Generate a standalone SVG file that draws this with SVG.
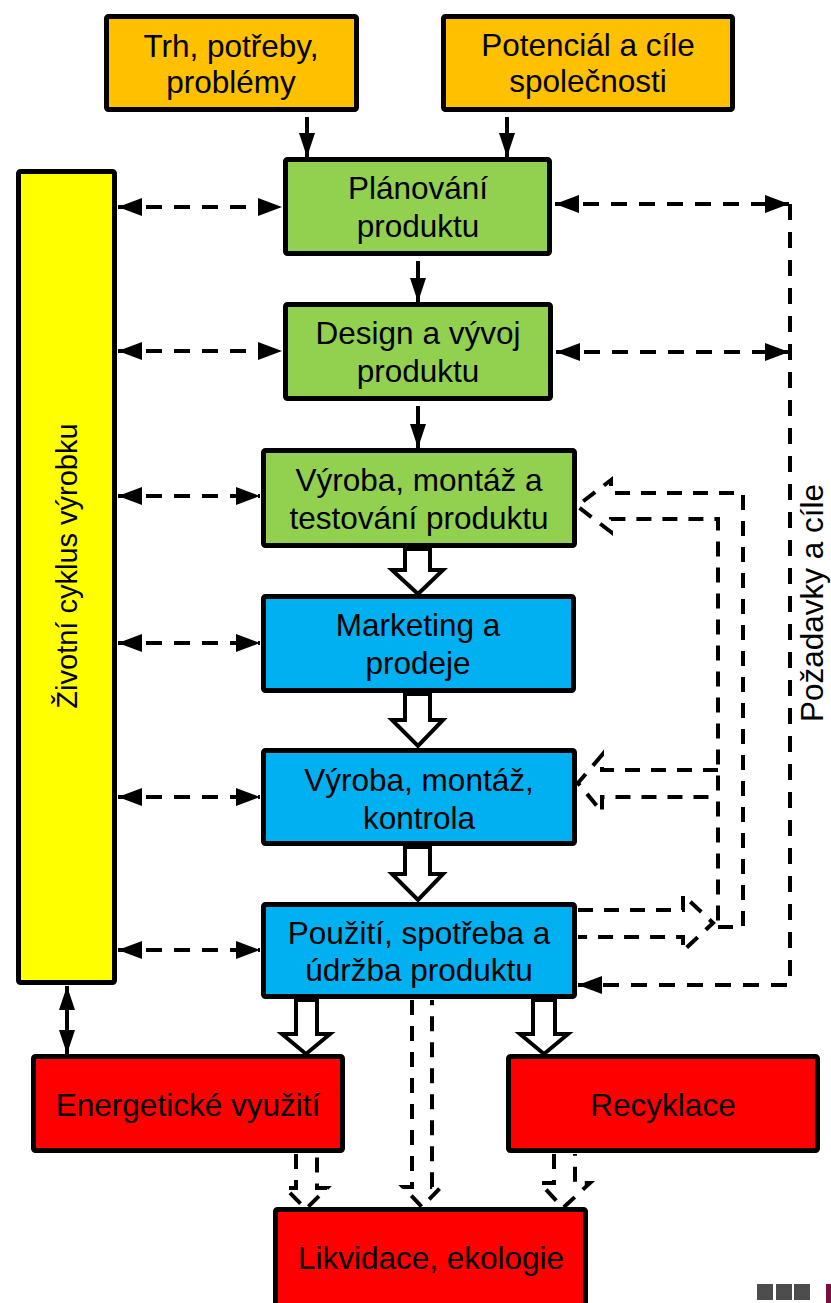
<svg xmlns="http://www.w3.org/2000/svg" width="831" height="1303" viewBox="0 0 831 1303">
<style>
.box{stroke:#000;stroke-width:5;stroke-linejoin:round}
.or{fill:#FFC000}.gr{fill:#92D050}.bl{fill:#00B0F0}.rd{fill:#FF0000}.ye{fill:#FFFF00}
text{font-family:"Liberation Sans",Arial,sans-serif;font-size:31.5px;fill:#000;text-anchor:middle}
.sl{stroke:#000;stroke-width:4;fill:none}
.dl{stroke:#000;stroke-width:4;fill:none;stroke-dasharray:16 12}
.hol{stroke:#000;stroke-width:4;fill:#fff;stroke-linejoin:miter}
.dh{stroke:#000;stroke-width:4;fill:none;stroke-dasharray:15 11}
</style>
<defs>
<marker id="ah" viewBox="0 0 24 18" refX="24" refY="9" markerWidth="24" markerHeight="18" markerUnits="userSpaceOnUse" orient="auto-start-reverse"><path d="M0,0 L24,9 L0,18 z" fill="#000"/></marker>
<marker id="av" viewBox="0 0 24 16" refX="24" refY="8" markerWidth="24" markerHeight="16" markerUnits="userSpaceOnUse" orient="auto-start-reverse"><path d="M0,0 L24,8 L0,16 z" fill="#000"/></marker>
</defs>

<g id="connectors">
<line class="sl" x1="307" y1="117" x2="307" y2="157" marker-end="url(#av)"/>
<line class="sl" x1="507" y1="117" x2="507" y2="157" marker-end="url(#av)"/>
<line class="sl" x1="418" y1="261" x2="418" y2="302" marker-end="url(#av)"/>
<line class="sl" x1="418" y1="406" x2="418" y2="448" marker-end="url(#av)"/>
<line class="sl" x1="67" y1="986" x2="67" y2="1054" marker-start="url(#av)" marker-end="url(#av)"/>
<polygon class="hol" points="405,549 405,570 392,570 418,594 443,570 430,570 430,549"/>
<polygon class="hol" points="405,694 405,720 392,720 418,746 443,720 430,720 430,694"/>
<polygon class="hol" points="405,847 405,874 392,874 418,900 443,874 430,874 430,847"/>
<polygon class="hol" points="296,1000 296,1034 282,1034 306,1054 330,1034 317,1034 317,1000"/>
<polygon class="hol" points="533,1000 533,1034 520,1034 544,1054 568,1034 555,1034 555,1000"/>
<line class="dl" x1="118" y1="207" x2="282" y2="207" marker-start="url(#ah)" marker-end="url(#ah)"/>
<line class="dl" x1="118" y1="351" x2="282" y2="351" marker-start="url(#ah)" marker-end="url(#ah)"/>
<line class="dl" x1="118" y1="496" x2="260" y2="496" marker-start="url(#ah)" marker-end="url(#ah)"/>
<line class="dl" x1="118" y1="643" x2="260" y2="643" marker-start="url(#ah)" marker-end="url(#ah)"/>
<line class="dl" x1="118" y1="797" x2="260" y2="797" marker-start="url(#ah)" marker-end="url(#ah)"/>
<line class="dl" x1="118" y1="950" x2="260" y2="950" marker-start="url(#ah)" marker-end="url(#ah)"/>
<line class="dl" x1="555" y1="204" x2="789" y2="204" marker-start="url(#ah)" marker-end="url(#ah)"/>
<line class="dl" x1="556" y1="352" x2="789" y2="352" marker-start="url(#ah)" marker-end="url(#ah)"/>
<path class="dl" d="M790,204 L790,985 L578,985" marker-end="url(#ah)"/>
<path class="dh" d="M718,927 L743,927 L743,493 L611,493 L611,480 L577,506 L611,532 L611,519 L718,519 L718,927"/>
<path class="dh" d="M718,770 L602,770 L602,755 L578,783 L602,812 L602,797 L718,797"/>
<path class="dh" d="M578,910 L683,910 L683,895 L713,923 L683,951 L683,937 L578,937"/>
<path class="dh" d="M296,1154 L296,1188 L285,1188 L306,1209 L327,1188 L317,1188 L317,1154"/>
<path class="dh" d="M412,1000 L412,1187 L403,1187 L422,1207 L441,1187 L432,1187 L432,1000"/>
<path class="dh" d="M554,1154 L554,1183 L540,1183 L563,1208 L590,1183 L575,1183 L575,1154"/>
</g>

<g id="trh"><rect class="box or" x="106.5" y="16.5" width="250" height="93" rx="2"/><text x="231" y="57">Trh, potřeby,</text><text x="231" y="93">problémy</text></g>
<g id="potencial"><rect class="box or" x="443.5" y="16.5" width="289" height="93" rx="2"/><text x="588" y="56">Potenciál a cíle</text><text x="588" y="92">společnosti</text></g>
<g id="planovani"><rect class="box gr" x="285.5" y="159.5" width="264" height="94" rx="2"/><text x="418" y="199">Plánování</text><text x="418" y="237">produktu</text></g>
<g id="design"><rect class="box gr" x="285.5" y="304.5" width="265" height="94" rx="2"/><text x="418" y="344">Design a vývoj</text><text x="418" y="382">produktu</text></g>
<g id="vyroba-test"><rect class="box gr" x="263.5" y="450.5" width="311" height="95" rx="2"/><text x="419" y="491">Výroba, montáž a</text><text x="419" y="529">testování produktu</text></g>
<g id="marketing"><rect class="box bl" x="263.5" y="596.5" width="310" height="94" rx="2"/><text x="418" y="636">Marketing a</text><text x="418" y="674">prodeje</text></g>
<g id="vyroba-kontrola"><rect class="box bl" x="263.5" y="750.5" width="311" height="93" rx="2"/><text x="419" y="791">Výroba, montáž,</text><text x="419" y="829">kontrola</text></g>
<g id="pouziti"><rect class="box bl" x="263.5" y="904.5" width="311" height="92" rx="2"/><text x="419" y="944">Použití, spotřeba a</text><text x="419" y="981">údržba produktu</text></g>
<g id="energeticke"><rect class="box rd" x="33.5" y="1056.5" width="309" height="94" rx="2"/><text x="188" y="1116">Energetické využití</text></g>
<g id="recyklace"><rect class="box rd" x="508.5" y="1056.5" width="309" height="94" rx="2"/><text x="663" y="1116">Recyklace</text></g>
<g id="likvidace"><rect class="box rd" x="275.5" y="1209.5" width="310" height="100" rx="2"/><text x="431" y="1269">Likvidace, ekologie</text></g>
<g id="zivotni-cyklus"><rect class="box ye" x="18.5" y="171.5" width="96" height="811" rx="2"/><text transform="translate(77,566) rotate(-90)" style="font-size:29px">Životní cyklus výrobku</text></g>
<g id="pozadavky"><text transform="translate(823,603) rotate(-90)" style="font-size:31.5px">Požadavky a cíle</text></g>
<g id="corner">
<rect x="757" y="1284" width="16" height="16" fill="#4d4d4d"/>
<rect x="776" y="1284" width="16" height="16" fill="#4d4d4d"/>
<rect x="794" y="1284" width="16" height="16" fill="#4d4d4d"/>
<rect x="826" y="1284" width="5" height="19" fill="#7a1040"/>
</g>
</svg>
